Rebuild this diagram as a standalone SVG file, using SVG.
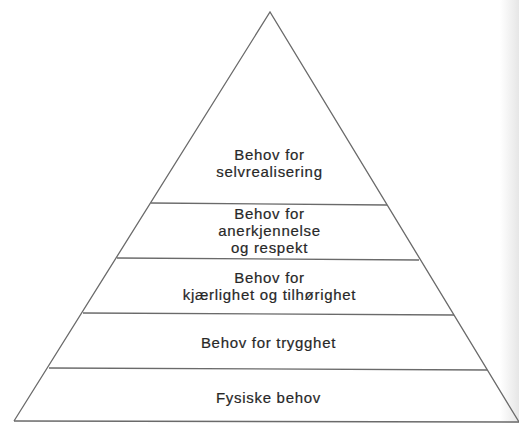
<svg xmlns="http://www.w3.org/2000/svg" width="519" height="423" viewBox="0 0 519 423">
<style>
.edge{stroke:#6a6a6a;stroke-width:1.3;fill:none}
.lbl{font-family:"Liberation Sans",Arial,sans-serif;font-size:15px;letter-spacing:0.7px;fill:#282828;text-anchor:middle;stroke:#282828;stroke-width:0.2}
</style>
<defs>
<linearGradient id="shade" x1="0" y1="0" x2="1" y2="0">
<stop offset="0" stop-color="#ffffff"/>
<stop offset="1" stop-color="#e6e6e6"/>
</linearGradient>
</defs>
<rect x="0" y="0" width="519" height="423" fill="#fff"/>
<rect x="500" y="0" width="19" height="423" fill="url(#shade)"/>
<g id="connectors">
<polyline class="edge" points="14,421 270,12 519,422"/>
<line class="edge" x1="14" y1="421" x2="519" y2="422"/>
<line class="edge" x1="151" y1="203" x2="387" y2="205"/>
<line class="edge" x1="117" y1="258" x2="419" y2="260"/>
<line class="edge" x1="83" y1="313" x2="454" y2="315"/>
<line class="edge" x1="49" y1="368" x2="487" y2="370"/>
</g>
<g id="level5">
<text class="lbl" x="269.5" y="160">Behov for</text>
<text class="lbl" x="269.5" y="177">selvrealisering</text>
</g>
<g id="level4">
<text class="lbl" x="269.5" y="219">Behov for</text>
<text class="lbl" x="269.5" y="236">anerkjennelse</text>
<text class="lbl" x="269.5" y="253">og respekt</text>
</g>
<g id="level3">
<text class="lbl" x="269.5" y="283">Behov for</text>
<text class="lbl" x="269.5" y="300">kjærlighet og tilhørighet</text>
</g>
<g id="level2">
<text class="lbl" x="268.5" y="348">Behov for trygghet</text>
</g>
<g id="level1">
<text class="lbl" x="268.5" y="403">Fysiske behov</text>
</g>
</svg>
